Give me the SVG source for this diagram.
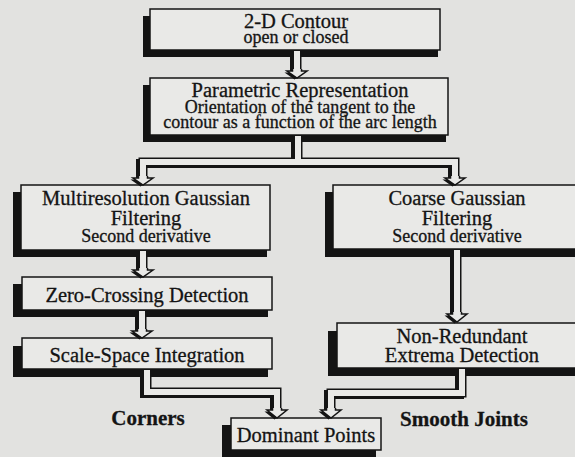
<svg xmlns="http://www.w3.org/2000/svg" width="575" height="457" viewBox="0 0 575 457">
  <defs>
    <style>
      .bg{fill:#e2e2e0}
      .shadow{fill:#141414}
      .box{fill:#e9e9e7;stroke:#141414;stroke-width:1.5}
      .t{font-family:"Liberation Serif","Times New Roman",serif;fill:#141414;stroke:#141414;stroke-width:0.3;text-anchor:middle}
      .h{font-size:20.5px}
      .s{font-size:18px}
      .b{font-size:21px;font-weight:bold}
      .pipe-out{fill:none;stroke:#141414;stroke-width:9;stroke-linejoin:miter}
      .pipe-in{fill:none;stroke:#e9e9e7;stroke-width:6;stroke-linejoin:miter}
      .head{fill:#e9e9e7;stroke:#141414;stroke-width:1.5;stroke-linejoin:miter}
      .head-sh{fill:#141414;stroke:none}
    </style>
  </defs>

  <rect class="bg" x="0" y="0" width="575" height="457"/>

  <!-- process boxes: drop shadow down-left, framed panel, centred text -->
  <g id="contour">
    <rect class="shadow" x="143" y="16" width="295" height="41"/>
    <rect class="box" x="150" y="9" width="290" height="41"/>
    <text class="t h" x="296" y="28">2-D Contour</text>
    <text class="t s" x="296" y="43">open or closed</text>
  </g>

  <g id="parametric">
    <rect class="shadow" x="143" y="85" width="303" height="57"/>
    <rect class="box" x="150" y="78" width="298" height="57"/>
    <text class="t h" x="300" y="97">Parametric Representation</text>
    <text class="t s" x="300" y="113">Orientation of the tangent to the</text>
    <text class="t s" x="300" y="128">contour as a function of the arc length</text>
  </g>

  <g id="multiresolution">
    <rect class="shadow" x="13" y="192" width="254" height="65"/>
    <rect class="box" x="21" y="185" width="249" height="65"/>
    <text class="t h" x="146" y="205">Multiresolution Gaussian</text>
    <text class="t h" x="146" y="225">Filtering</text>
    <text class="t s" x="146" y="242">Second derivative</text>
  </g>

  <g id="coarse">
    <rect class="shadow" x="325" y="192" width="260" height="65"/>
    <rect class="box" x="333" y="185" width="248" height="64"/>
    <text class="t h" x="457" y="205">Coarse Gaussian</text>
    <text class="t h" x="457" y="225">Filtering</text>
    <text class="t s" x="457" y="242">Second derivative</text>
  </g>

  <g id="zero-crossing">
    <rect class="shadow" x="13" y="284" width="255" height="33"/>
    <rect class="box" x="22" y="277" width="250" height="33"/>
    <text class="t h" x="147" y="302">Zero-Crossing Detection</text>
  </g>

  <g id="scale-space">
    <rect class="shadow" x="13" y="346" width="255" height="31"/>
    <rect class="box" x="22" y="338" width="250" height="31"/>
    <text class="t h" x="147" y="362">Scale-Space Integration</text>
  </g>

  <g id="non-redundant">
    <rect class="shadow" x="328" y="331" width="260" height="45"/>
    <rect class="box" x="337" y="323" width="250" height="45"/>
    <text class="t h" x="462" y="343">Non-Redundant</text>
    <text class="t h" x="462" y="362">Extrema Detection</text>
  </g>

  <g id="dominant">
    <rect class="shadow" x="222" y="425" width="154" height="32"/>
    <rect class="box" x="231" y="418" width="150" height="32"/>
    <text class="t h" x="306" y="442">Dominant Points</text>
  </g>

  <!-- hollow pipe connectors with arrowheads -->
  <g id="connectors">
    <g transform="translate(-2.5,1.5)">
      <path class="pipe-out" d="M297,51 V71 M298,136 V162 M143,178 V162 H455 V178 M143,251 V270 M142,311 V331 M457,250 V314 M147,370 V392 H277 V410 M462,369 V393 H331 V410"/>
      <path class="head-sh" d="M292.5,69 V71 H287 L297,78 L307,71 H301.5 V69 Z"/>
      <path class="head-sh" d="M138.5,176 V178 H133 L143,185 L153,178 H147.5 V176 Z"/>
      <path class="head-sh" d="M450.5,176 V178 H445 L455,185 L465,178 H459.5 V176 Z"/>
      <path class="head-sh" d="M138.5,268 V270 H133 L143,277 L153,270 H147.5 V268 Z"/>
      <path class="head-sh" d="M137.5,329 V331 H132 L142,338 L152,331 H146.5 V329 Z"/>
      <path class="head-sh" d="M452.5,312 V314 H447 L457,322 L467,314 H461.5 V312 Z"/>
      <path class="head-sh" d="M272.5,408 V410 H267 L277,418 L287,410 H281.5 V408 Z"/>
      <path class="head-sh" d="M326.5,408 V410 H321 L331,418 L341,410 H335.5 V408 Z"/>
    </g>
    <path class="pipe-out" d="M297,51 V71 M298,136 V162 M143,178 V162 H455 V178 M143,251 V270 M142,311 V331 M457,250 V314 M147,370 V392 H277 V410 M462,369 V393 H331 V410"/>
    <path class="pipe-in" d="M297,51 V71 M298,136 V162 M143,178 V162 H455 V178 M143,251 V270 M142,311 V331 M457,250 V314 M147,370 V392 H277 V410 M462,369 V393 H331 V410"/>
    <path class="head" d="M292.5,69 V71 H287 L297,78 L307,71 H301.5 V69"/>
    <path class="head" d="M138.5,176 V178 H133 L143,185 L153,178 H147.5 V176"/>
    <path class="head" d="M450.5,176 V178 H445 L455,185 L465,178 H459.5 V176"/>
    <path class="head" d="M138.5,268 V270 H133 L143,277 L153,270 H147.5 V268"/>
    <path class="head" d="M137.5,329 V331 H132 L142,338 L152,331 H146.5 V329"/>
    <path class="head" d="M452.5,312 V314 H447 L457,322 L467,314 H461.5 V312"/>
    <path class="head" d="M272.5,408 V410 H267 L277,418 L287,410 H281.5 V408"/>
    <path class="head" d="M326.5,408 V410 H321 L331,418 L341,410 H335.5 V408"/>
  </g>

  <!-- branch labels -->
  <text class="t b" x="148" y="425">Corners</text>
  <text class="t b" x="464" y="426">Smooth Joints</text>
</svg>
